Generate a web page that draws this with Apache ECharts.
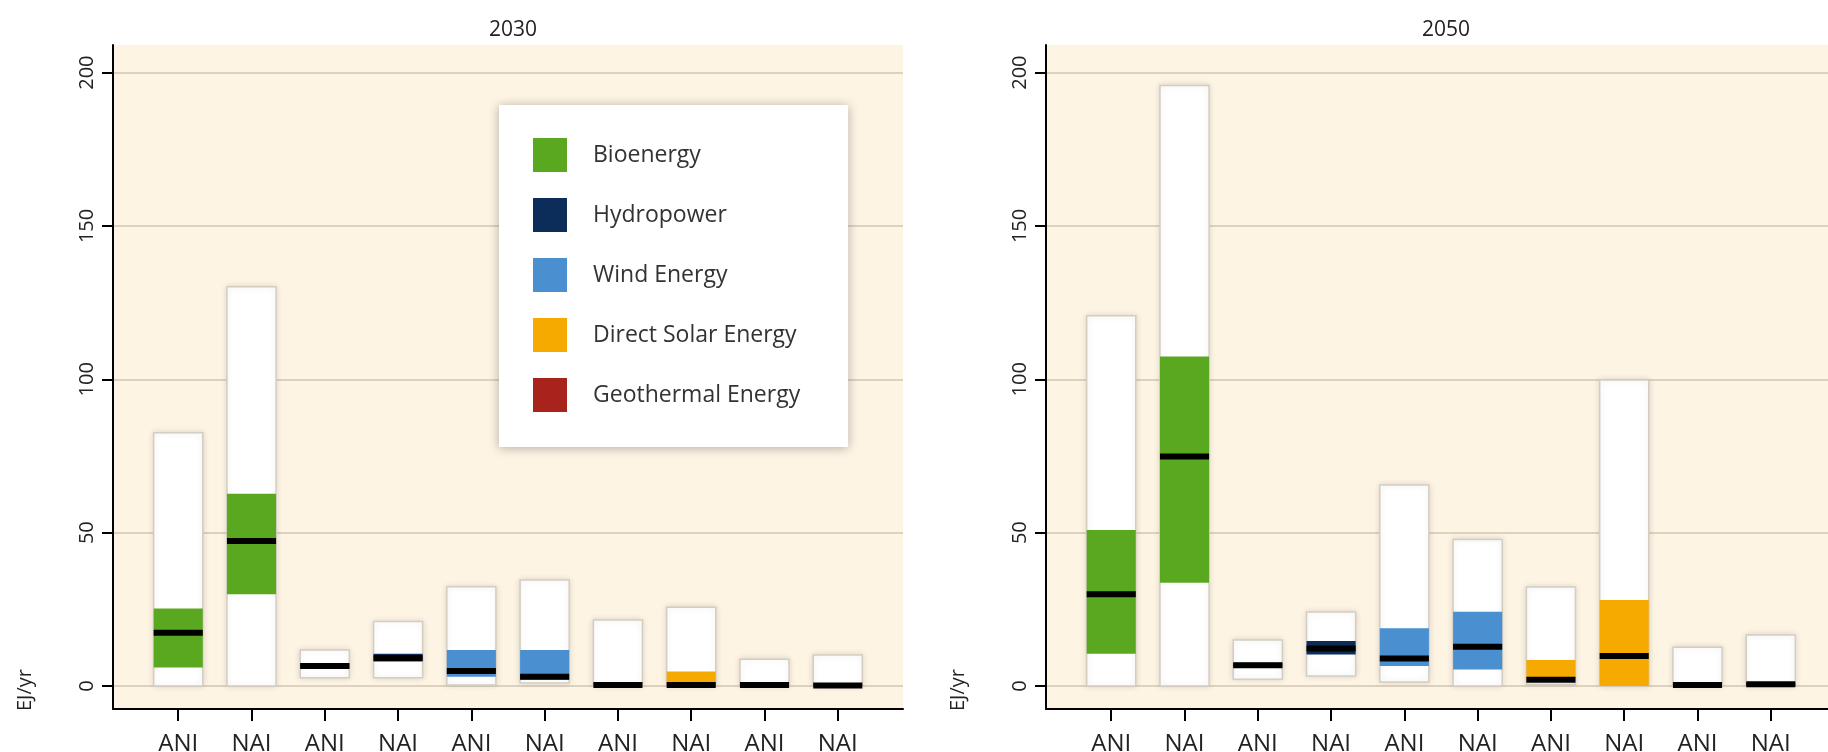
<!DOCTYPE html>
<html>
<head>
<meta charset="utf-8">
<script src="https://cdn.jsdelivr.net/npm/echarts@6/dist/echarts.min.js"></script>
<style>
  html, body { margin: 0; padding: 0; background: #fff; }
  #chart { width: 1828px; height: 752px; }
</style>
</head>
<body>
<div id="chart"></div>
<script>
// categories
const techs = ['Bioenergy', 'Hydropower', 'Wind Energy', 'Direct Solar Energy', 'Geothermal Energy'];
const techColors = ['#5aa820', '#0c2d5a', '#4a8fd0', '#f6aa00', '#a8231b'];
const xLabels = ['ANI', 'NAI', 'ANI', 'NAI', 'ANI', 'NAI', 'ANI', 'NAI', 'ANI', 'NAI'];
const years = ['2030', '2050'];
const yTicks = [0, 50, 100, 150, 200];

// 2030: min / 25th / median / 75th / max  (EJ/yr)
const min2030 = [0, 0, 2.7, 2.7, 0.3, 1, 0, 0, 0, 0];
const q1_2030 = [6, 29.9, 5.6, 8, 3, 2, 0, 0, 0, 0];
const med2030 = [17.4, 47.3, 6.5, 9.1, 4.9, 3, 0.3, 0.3, 0.3, 0.2];
const q3_2030 = [25.3, 62.7, 7.4, 10.5, 11.7, 11.7, 0.8, 4.7, 0.6, 0.6];
const max2030 = [82.6, 130.2, 11.7, 21, 32.4, 34.6, 21.5, 25.7, 8.7, 10.1];

// 2050
const min2050 = [0, 0, 2.2, 3.3, 1.3, 0, 0.6, 0, 0, 0];
const q1_2050 = [10.5, 33.7, 6, 10.3, 6.5, 5.4, 1.5, 0, 0, 0];
const med2050 = [29.9, 74.8, 6.8, 12.2, 9, 12.8, 2, 9.8, 0.3, 0.6];
const q3_2050 = [50.9, 107.4, 7.6, 14.7, 18.8, 24.2, 8.5, 28, 0.6, 1];
const max2050 = [120.7, 195.8, 15, 24.1, 65.5, 47.8, 32.3, 99.8, 12.6, 16.6];

const stats = [
  [min2030, q1_2030, med2030, q3_2030, max2030],
  [min2050, q1_2050, med2050, q3_2050, max2050]
];

const chart = echarts.init(document.getElementById('chart'));
const fontFamily = "'Open Sans', 'Noto Sans', sans-serif";
const gridLefts = [113, 1046];

// white min-max box, coloured 25-75 box, black median bar
function renderBox(params, api) {
  const x = api.value(0);
  const lo = api.coord([x, api.value(1)]);
  const q1 = api.coord([x, api.value(2)]);
  const md = api.coord([x, api.value(3)]);
  const q3 = api.coord([x, api.value(4)]);
  const hi = api.coord([x, api.value(5)]);
  const w = api.size([0.67, 0])[0];
  const left = lo[0] - w / 2;
  return {
    type: 'group',
    children: [
      {
        type: 'rect',
        shape: { x: left, y: hi[1], width: w, height: lo[1] - hi[1] },
        style: { fill: '#ffffff', stroke: '#d4cdc2', lineWidth: 1.5, shadowBlur: 6, shadowColor: 'rgba(0,0,0,0.12)' }
      },
      {
        type: 'rect',
        shape: { x: left, y: q3[1], width: w, height: q1[1] - q3[1] },
        style: { fill: api.visual('color') }
      },
      {
        type: 'rect',
        shape: { x: left, y: md[1] - 3, width: w, height: 6 },
        style: { fill: '#000000' }
      }
    ]
  };
}

const grids = [], xAxes = [], yAxes = [], series = [], titles = [], graphics = [];

years.forEach((yr, p) => {
  grids.push({
    left: gridLefts[p], top: 45, width: 790, height: 664,
    show: true, backgroundColor: '#fdf4e4', borderWidth: 0,
    outerBoundsMode: 'none'
  });
  xAxes.push({
    type: 'value', gridIndex: p, min: -0.89, max: 9.89,
    splitLine: { show: false },
    axisLine: { show: true, onZero: false, lineStyle: { color: '#000', width: 2 } },
    axisTick: { show: true, customValues: [0, 1, 2, 3, 4, 5, 6, 7, 8, 9], length: 12, lineStyle: { color: '#000', width: 2 } },
    axisLabel: {
      customValues: [0, 1, 2, 3, 4, 5, 6, 7, 8, 9],
      formatter: v => xLabels[Math.round(v)],
      margin: 23, fontSize: 24, color: '#222', fontFamily: fontFamily
    }
  });
  yAxes.push({
    type: 'value', gridIndex: p, min: -7.5, max: 209,
    axisLine: { show: true, onZero: false, lineStyle: { color: '#000', width: 2 } },
    axisTick: { show: true, customValues: yTicks, length: 11, lineStyle: { color: '#000', width: 2 } },
    axisLabel: {
      customValues: yTicks, rotate: 90, margin: 16,
      fontSize: 20, color: '#222', fontFamily: fontFamily
    },
    splitLine: { show: true, lineStyle: { color: '#ddd2c0', width: 2 } }
  });
  titles.push({
    text: yr, left: gridLefts[p] + 395, top: 15, textAlign: 'center',
    textStyle: { fontSize: 21, fontWeight: 'normal', color: '#222', fontFamily: fontFamily }
  });
  graphics.push({
    type: 'text', x: gridLefts[p] - 88, y: 690, rotation: Math.PI / 2,
    style: { text: 'EJ/yr', fontSize: 20, fill: '#222', fontFamily: fontFamily, align: 'center', verticalAlign: 'middle' }
  });

  const s = stats[p];
  techs.forEach((name, t) => {
    const data = [0, 1].map(k => {
      const i = 2 * t + k;
      return [i, s[0][i], s[1][i], s[2][i], s[3][i], s[4][i]];
    });
    series.push({
      type: 'custom', name: name,
      xAxisIndex: p, yAxisIndex: p,
      itemStyle: { color: techColors[t] },
      encode: { x: 0, y: [1, 2, 3, 4, 5] },
      renderItem: renderBox,
      data: data
    });
  });
});

chart.setOption({
  backgroundColor: '#ffffff',
  animation: false,
  title: titles,
  grid: grids,
  xAxis: xAxes,
  yAxis: yAxes,
  legend: {
    data: techs, orient: 'vertical', left: 499, top: 105,
    icon: 'rect', itemWidth: 34, itemHeight: 34, itemGap: 26,
    padding: [33, 48, 35, 34],
    backgroundColor: '#ffffff',
    shadowBlur: 10, shadowColor: 'rgba(0,0,0,0.3)', shadowOffsetY: 1,
    selectedMode: false,
    textStyle: { fontSize: 23, color: '#333', fontFamily: fontFamily, padding: [0, 0, 0, 21] }
  },
  graphic: graphics,
  series: series
});
</script>
</body>
</html>
